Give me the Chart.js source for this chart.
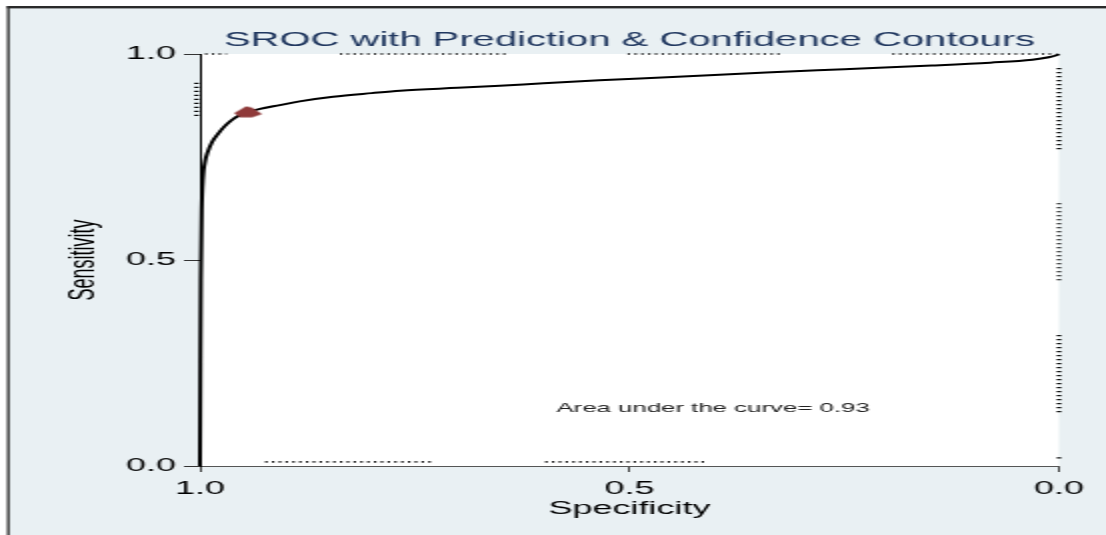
<!DOCTYPE html>
<html>
<head>
<meta charset="utf-8">
<script src="https://cdn.jsdelivr.net/npm/chart.js@4/dist/chart.umd.min.js"></script>
<style>
  html, body { margin: 0; padding: 0; background: #fff; overflow: hidden; width: 1106px; height: 535px; }
  /* the figure is drawn on a half-width canvas and widened 2x horizontally */
  #wrap { position: absolute; left: 0; top: 0; width: 553px; height: 535px; transform: scaleX(2); transform-origin: 0 0; }
</style>
</head>
<body>
<div id="wrap"><canvas id="sroc"></canvas></div>
<script>
// SROC curve: specificity (x axis, reversed) against sensitivity (y axis)
const specificity = [1.000, 0.9995, 0.999, 0.998, 0.9965, 0.994, 0.991, 0.986, 0.979, 0.972, 0.964, 0.955,
                     0.944, 0.930, 0.907, 0.884, 0.845, 0.800, 0.767, 0.700, 0.651, 0.600, 0.535, 0.450,
                     0.341, 0.250, 0.148, 0.080, 0.031, 0.012, 0.003, 0.000];
const sensitivity = [0.000, 0.250, 0.450, 0.620, 0.700, 0.740, 0.762, 0.786, 0.806, 0.823, 0.838, 0.850,
                     0.859, 0.867, 0.876, 0.885, 0.896, 0.905, 0.911, 0.918, 0.923, 0.929, 0.936, 0.944,
                     0.955, 0.963, 0.972, 0.979, 0.986, 0.992, 0.997, 1.000];

// summary operating point
const summarySpec = [0.944];
const summarySens = [0.859];

// prediction / confidence contour pieces that run along the plot edges
const topEdgeSpec    = [[0.994, 0.969], [0.837, 0.640], [0.502, 0.323], [0.194, 0.004]];
const bottomEdgeSpec = [[0.924, 0.727], [0.598, 0.410]];
const leftEdgeSens   = [[0.930, 0.847], [0.735, 0.500], [0.434, 0.209], [0.080, 0.007]];
const rightEdgeSens  = [[0.966, 0.767], [0.638, 0.447], [0.318, 0.129], [0.021, 0.017]];
const topEdgeLevel = 1.0, bottomEdgeLevel = 0.01, leftEdgeLevel = 1.004, rightEdgeLevel = 0.0;

const axisTicks = [0, 0.5, 1];
const aucValue = 0.93;
const aucLabelAt = { spec: 0.585, sens: 0.131 };

const FONT = "'Liberation Sans', Arial, Helvetica, sans-serif";
Chart.defaults.font.family = FONT;

// flat hexagonal marker for the summary point
const marker = document.createElement('canvas');
marker.width = 16; marker.height = 13;
(function () {
  const g = marker.getContext('2d');
  g.fillStyle = '#8f3a3a';
  g.beginPath();
  g.moveTo(1, 7.5); g.lineTo(7, 0.8); g.lineTo(10, 2); g.lineTo(15, 8.5);
  g.lineTo(10, 11.8); g.lineTo(4, 11.8); g.closePath();
  g.fill();
})();

function edgePoints(segs, level, horizontal) {
  const pts = [];
  segs.forEach(([a, b]) => {
    if (horizontal) pts.push({ x: a, y: level }, { x: b, y: level }, { x: b, y: null });
    else pts.push({ x: level, y: a }, { x: level, y: b }, { x: level, y: null });
  });
  return pts;
}

const curvePoints = specificity.map((s, i) => ({ x: s, y: sensitivity[i] }));
const summaryPoints = summarySpec.map((s, i) => ({ x: s, y: summarySens[i] }));

const dotted = (data, horizontal) => ({
  data, showLine: true, spanGaps: false, pointRadius: 0, clip: false,
  borderColor: '#000', borderWidth: horizontal ? 1.7 : 2.2,
  borderDash: horizontal ? [1.1, 2.3] : [1.2, 2.8], borderCapStyle: 'butt'
});

const panel = {
  id: 'panel',
  beforeDraw(chart) {
    const { ctx, width, height, chartArea: a } = chart;
    ctx.save();
    ctx.fillStyle = '#ffffff';
    ctx.fillRect(0, 0, width, height);
    ctx.fillStyle = '#e9f0f3';
    ctx.fillRect(4, 7, width - 4, height - 7);
    ctx.fillStyle = '#2a2a2a';
    ctx.fillRect(3.5, 6, 1.3, height - 6);
    ctx.fillRect(3.5, 6, width, 2.4);
    ctx.fillStyle = '#ffffff';
    ctx.fillRect(a.left, a.top, a.right - a.left, a.bottom - a.top);
    ctx.restore();
  },
  afterDatasetsDraw(chart) {
    const { ctx, scales: { x, y } } = chart;
    ctx.save();
    ctx.font = '12.9px ' + FONT;
    ctx.fillStyle = '#222';
    ctx.textAlign = 'left';
    ctx.textBaseline = 'alphabetic';
    ctx.fillText('Area under the curve= ' + aucValue.toFixed(2),
      x.getPixelForValue(aucLabelAt.spec), y.getPixelForValue(aucLabelAt.sens));
    ctx.restore();
  }
};

new Chart(document.getElementById('sroc'), {
  type: 'scatter',
  data: {
    datasets: [
      { data: summaryPoints, pointStyle: marker, pointRadius: 7, showLine: false, clip: false },
      { data: curvePoints, showLine: true, pointRadius: 0, borderColor: '#000', borderWidth: 2,
        cubicInterpolationMode: 'monotone', clip: false },
      dotted(edgePoints(topEdgeSpec, topEdgeLevel, true), true),
      dotted(edgePoints(bottomEdgeSpec, bottomEdgeLevel, true), true),
      dotted(edgePoints(leftEdgeSens, leftEdgeLevel, false), false),
      dotted(edgePoints(rightEdgeSens, rightEdgeLevel, false), false)
    ]
  },
  options: {
    responsive: true,
    maintainAspectRatio: false,
    animation: false,
    events: [],
    layout: { padding: { left: 0, right: 23.5, top: 0, bottom: 0 } },
    plugins: {
      legend: { display: false },
      tooltip: { enabled: false },
      title: {
        display: true,
        text: 'SROC with Prediction & Confidence Contours',
        fullSize: false,
        color: '#20375f',
        font: { size: 20, weight: 'normal', family: FONT },
        padding: { top: 28, bottom: 2 }
      }
    },
    scales: {
      x: {
        type: 'linear', position: 'bottom', reverse: true, min: 0, max: 1,
        afterBuildTicks: s => { s.ticks = axisTicks.map(v => ({ value: v })); },
        afterFit: s => { s.height = 69; },
        ticks: { callback: v => Number(v).toFixed(1), color: '#000', padding: 6,
                 maxRotation: 0, autoSkip: false, font: { size: 18 } },
        grid: { drawOnChartArea: false, drawTicks: true, tickLength: 6, tickColor: '#444', tickWidth: 1 },
        border: { display: true, color: '#555', width: 1 },
        title: { display: true, text: 'Specificity', color: '#000', font: { size: 18 },
                 padding: { top: 0, bottom: 15 } }
      },
      y: {
        type: 'linear', position: 'left', min: 0, max: 1,
        afterBuildTicks: s => { s.ticks = axisTicks.map(v => ({ value: v })); },
        afterFit: s => { s.width = 100; },
        ticks: { callback: v => Number(v).toFixed(1), color: '#000', padding: 4,
                 autoSkip: false, font: { size: 18 } },
        grid: { drawOnChartArea: false, drawTicks: true, tickLength: 8, tickColor: '#333', tickWidth: 1 },
        border: { display: true, color: '#000', width: 1 },
        title: { display: true, text: 'Sensitivity', color: '#000', font: { size: 18 },
                 padding: { top: 31, bottom: 0 } }
      }
    }
  },
  plugins: [panel]
});
</script>
</body>
</html>
